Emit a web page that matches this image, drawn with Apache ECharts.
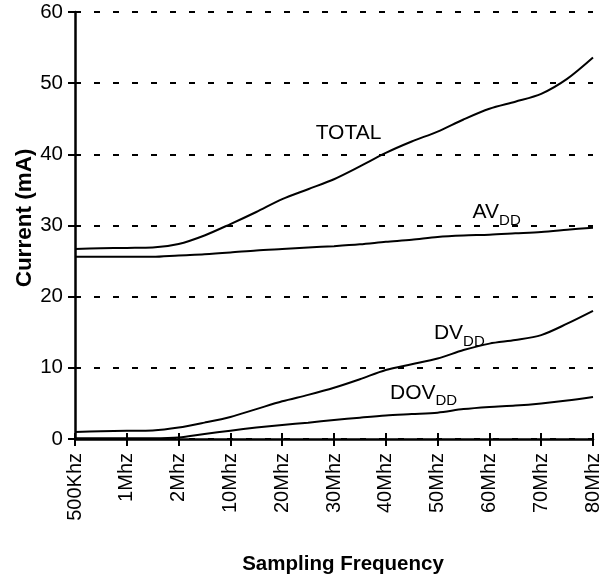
<!DOCTYPE html>
<html>
<head>
<meta charset="utf-8">
<script src="https://cdn.jsdelivr.net/npm/echarts@6/dist/echarts.min.js"></script>
<style>
html,body{margin:0;padding:0;background:#fff;}
#c{width:607px;height:577px;}
</style>
</head>
<body>
<div id="c"></div>
<script>
// x categories (tick labels)
const categories = ['500Khz','1Mhz','2Mhz','10Mhz','20Mhz','30Mhz','40Mhz','50Mhz','60Mhz','70Mhz','80Mhz'];
// sample positions along the category axis (index units, half steps)
const xPos = [0,0.5,1,1.5,2,2.5,3,3.5,4,4.5,5,5.5,6,6.5,7,7.5,8,8.5,9,9.5,10];
// series values (mA)
const totalVals = [26.7,26.8,26.85,26.9,27.4,28.6,30.2,31.9,33.7,35.1,36.5,38.3,40.2,41.8,43.2,44.9,46.4,47.4,48.5,50.6,53.6];
const avddVals  = [25.6,25.6,25.6,25.6,25.8,25.95,26.2,26.5,26.7,26.9,27.1,27.35,27.7,28.0,28.4,28.6,28.7,28.9,29.1,29.4,29.7];
const dvddVals  = [0.98,1.1,1.15,1.2,1.6,2.3,3.1,4.2,5.3,6.2,7.2,8.4,9.7,10.5,11.3,12.5,13.4,13.9,14.6,16.2,18.0];
const dovddVals = [0.1,0.1,0.1,0.1,0.2,0.7,1.17,1.6,1.97,2.3,2.67,3.0,3.3,3.5,3.7,4.2,4.5,4.7,5.0,5.4,5.9];
// y ticks
const yMin = 0, yMax = 60, yStep = 10;
// curve labels: [x index, value, main text, subscript]
const curveLabels = [
  [5.28, 43.0, 'TOTAL', ''],
  [8.14, 31.8, 'AV', 'DD'],
  [7.42, 14.8, 'DV', 'DD'],
  [6.73, 6.5, 'DOV', 'DD']
];

const FONT = '"Liberation Sans", Arial, Helvetica, sans-serif';
const pairs = vals => xPos.map((x, i) => [x, vals[i]]);
const lineSeries = (name, vals) => ({
  name, type: 'line', data: pairs(vals), smooth: 0.3, symbol: 'none',
  lineStyle: { color: '#000', width: 2 }, z: 5
});

const chart = echarts.init(document.getElementById('c'), null, { renderer: 'canvas' });
chart.setOption({
  animation: false,
  backgroundColor: '#fff',
  textStyle: { fontFamily: FONT },
  grid: { left: 75, right: 14, top: 12, bottom: 138, containLabel: false, outerBoundsMode: 'none' },
  xAxis: [{
    type: 'value', min: 0, max: categories.length - 1, interval: 1,
    axisLine: { show: true, onZero: false, lineStyle: { color: '#000', width: 2.5 } },
    axisTick: { show: true, inside: false, length: 7, lineStyle: { color: '#000', width: 2 } },
    axisLabel: { rotate: 90, margin: 14, fontSize: 20, color: '#000', fontFamily: FONT,
      formatter: v => categories[Math.round(v)] },
    splitLine: { show: false },
    name: 'Sampling Frequency', nameLocation: 'middle', nameGap: 115, nameMoveOverlap: false,
    nameTextStyle: { fontSize: 20.5, fontWeight: 'bold', color: '#000', fontFamily: FONT, padding: [0, 0, 0, 18] }
  }, {
    type: 'value', min: 0, max: categories.length - 1, interval: 1, position: 'bottom',
    axisLine: { show: false },
    axisTick: { show: true, inside: true, length: 6, lineStyle: { color: '#000', width: 2 } },
    axisLabel: { show: false }, splitLine: { show: false }
  }],
  yAxis: [{
    type: 'value', min: yMin, max: yMax, interval: yStep,
    axisLine: { show: true, onZero: false, lineStyle: { color: '#000', width: 2.5 } },
    axisTick: { show: true, inside: false, length: 7, lineStyle: { color: '#000', width: 2 } },
    axisLabel: { margin: 12, fontSize: 20.5, color: '#000', fontFamily: FONT },
    splitLine: { show: true, lineStyle: { color: '#000', width: 2, type: [6, 13] } },
    name: 'Current (mA)', nameLocation: 'middle', nameGap: 39, nameRotate: 90, nameMoveOverlap: false,
    nameTextStyle: { fontSize: 22.5, fontWeight: 'bold', color: '#000', fontFamily: FONT, padding: [0, 0, 0, 15] }
  }, {
    type: 'value', min: yMin, max: yMax, interval: yStep, position: 'left',
    axisLine: { show: false },
    axisTick: { show: true, inside: true, length: 6, lineStyle: { color: '#000', width: 2 } },
    axisLabel: { show: false }, splitLine: { show: false }
  }],
  series: [
    lineSeries('TOTAL', totalVals),
    lineSeries('AVDD', avddVals),
    lineSeries('DVDD', dvddVals),
    lineSeries('DOVDD', dovddVals),
    {
      type: 'scatter', symbolSize: 0, z: 6, silent: true,
      itemStyle: { opacity: 1 },
      data: curveLabels.map(l => ({ value: [l[0], l[1]], main: l[2], sub: l[3] })),
      label: {
        show: true, position: 'inside', color: '#000', opacity: 1,
        formatter: p => '{m|' + p.data.main + '}' + (p.data.sub ? '{s|' + p.data.sub + '}' : ''),
        rich: {
          m: { fontSize: 21, lineHeight: 21, fontFamily: FONT, color: '#000', verticalAlign: 'top' },
          s: { fontSize: 15, lineHeight: 15, fontFamily: FONT, color: '#000', verticalAlign: 'top', padding: [11, 0, 0, 0] }
        }
      }
    }
  ]
});
</script>
</body>
</html>
